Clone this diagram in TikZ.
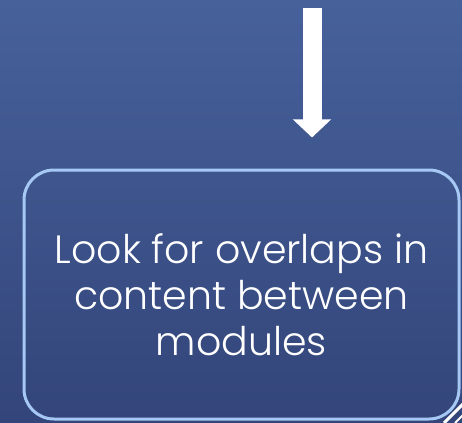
\documentclass[tikz,border=0pt]{standalone}
\usepackage{fontspec}
\setmainfont{Poppins Light}
\usepackage{tikz}
\usetikzlibrary{positioning,arrows.meta}

\definecolor{bgtop}{HTML}{47619B}
\definecolor{bgbottom}{HTML}{33457A}
\definecolor{boxline}{HTML}{A6C8F4}

\begin{document}
\begin{tikzpicture}[x=1pt,y=-1pt,>={Triangle[width=37pt,length=18pt]},
                    semithick]
  \tikzstyle{stepbox}=[draw=boxline,line width=3pt,rounded corners=30pt,
                       minimum width=435pt,minimum height=249pt,
                       text=white,align=center,
                       font=\fontsize{39.5}{46}\selectfont]
  \tikzstyle{bigarrow}=[->,draw=white,line width=19pt,shorten >=31pt]

  \clip (0,0) rectangle (462,422);
  \shade[top color=bgtop,bottom color=bgbottom] (0,0) rectangle (462,422);

  \node[stepbox]  (look) at (241.5,294.5) {Look for overlaps in\\content between\\modules};
  \coordinate     (start) at (312,8);

  \draw[bigarrow] (start) -- (start |- look.north);

  % corner of the next shape
  \draw[white,line width=3pt] (444,423) -- (463,404);
  \draw[white,line width=2pt] (455,423) -- (464,414);
\end{tikzpicture}
\end{document}
